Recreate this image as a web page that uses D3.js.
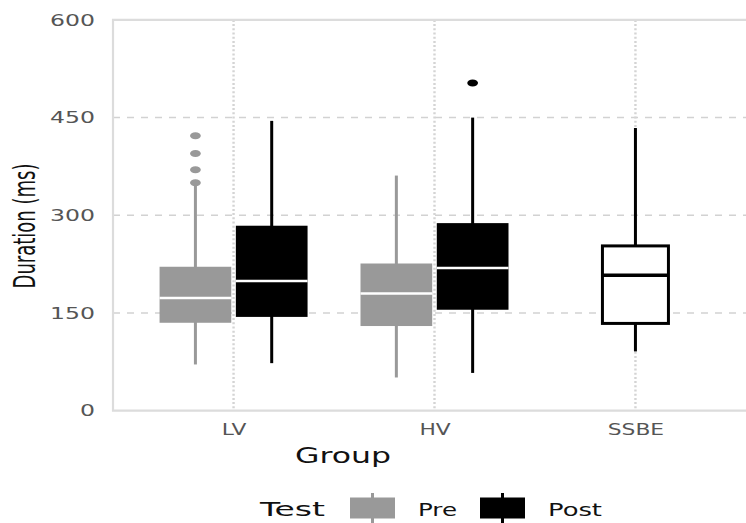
<!DOCTYPE html>
<html lang="en">
<head>
<meta charset="UTF-8">
<title>Duration by Group</title>
<script src="https://d3js.org/d3.v7.min.js"></script>
<style>
  body { margin: 0; background: #fff; }
  svg { display: block; }
  text { font-family: 'DejaVu Sans', sans-serif; }
</style>
</head>
<body>
<script>
// Data: [lower whisker, Q1, median, Q3, upper whisker]
const groups = ['LV', 'HV', 'SSBE'];
const tests = ['Pre', 'Post'];
const yTicks = [0, 150, 300, 450, 600];
const lvPre = [71, 135, 173, 221, 346];
const lvPost = [73, 144, 199, 284, 445];
const hvPre = [51, 130, 180, 226, 361];
const hvPost = [58, 155, 219, 288, 450];
const ssbe = [91, 134, 208, 253, 434];
const lvPreOutliers = [350, 370, 395, 422];
const hvPostOutliers = [503];

const boxes = [
  { group: 'LV', test: 'Pre', s: lvPre, out: lvPreOutliers },
  { group: 'LV', test: 'Post', s: lvPost, out: [] },
  { group: 'HV', test: 'Pre', s: hvPre, out: [] },
  { group: 'HV', test: 'Post', s: hvPost, out: hvPostOutliers },
  { group: 'SSBE', test: null, s: ssbe, out: [] }
];

const W = 746, H = 523;
const panel = { left: 113, top: 19.9, bottom: 410.7, right: 756 };

const svg = d3.select('body').append('svg')
  .attr('width', W).attr('height', H);

const x = d3.scalePoint().domain(groups)
  .range([panel.left, panel.right]).padding(0.6);
const dodge = d3.scaleBand().domain(tests)
  .range([-74, 74]).paddingInner(0.06);
const y = d3.scaleLinear().domain([0, 600])
  .range([panel.bottom, panel.top]);

const fill = d3.scaleOrdinal().domain(tests).range(['#999999', '#000000']);

// stretch text horizontally (the reference is widened)
function stretch(sel, k) {
  sel.each(function () {
    const w = this.getComputedTextLength();
    d3.select(this).attr('textLength', w * k).attr('lengthAdjust', 'spacingAndGlyphs');
  });
}

// grid
svg.append('g').selectAll('line')
  .data(yTicks.filter(d => d > 0 && d < 600))
  .join('line')
  .attr('x1', panel.left).attr('x2', W)
  .attr('y1', d => y(d)).attr('y2', d => y(d))
  .attr('stroke', '#d2d2d2').attr('stroke-width', 1.5)
  .attr('stroke-dasharray', '7,7');

svg.append('g').selectAll('line')
  .data(groups)
  .join('line')
  .attr('x1', d => x(d)).attr('x2', d => x(d))
  .attr('y1', panel.top).attr('y2', panel.bottom)
  .attr('stroke', '#d4d4d4').attr('stroke-width', 2.4)
  .attr('stroke-dasharray', '2,2.2');

// panel border
svg.append('path')
  .attr('d', `M${W + 10},${panel.top}H${panel.left}V${panel.bottom}H${W + 10}`)
  .attr('fill', 'none').attr('stroke', '#dcdcdc').attr('stroke-width', 2.2);

// axes
const yAxis = svg.append('g')
  .attr('transform', `translate(${panel.left},0)`)
  .call(d3.axisLeft(y).tickValues(yTicks).tickSize(0).tickPadding(18));
yAxis.select('.domain').remove();
yAxis.selectAll('text')
  .attr('font-family', 'DejaVu Sans').attr('font-size', 16).attr('fill', '#555')
  .call(stretch, 1.47);

const xAxis = svg.append('g')
  .attr('transform', `translate(0,${panel.bottom})`)
  .call(d3.axisBottom(x).tickSize(0));
xAxis.select('.domain').remove();
xAxis.selectAll('text')
  .attr('y', 24.5).attr('dy', null)
  .attr('font-family', 'DejaVu Sans').attr('font-size', 16).attr('fill', '#555')
  .call(stretch, 1.36);

// boxes
const cx = d => d.test ? x(d.group) + dodge(d.test) + dodge.bandwidth() / 2 : x(d.group);
const bw = d => d.test ? dodge.bandwidth() : 66;
const ink = d => d.test ? fill(d.test) : '#000';

const g = svg.append('g').selectAll('g').data(boxes).join('g');

g.append('line')
  .attr('x1', cx).attr('x2', cx)
  .attr('y1', d => y(d.s[0])).attr('y2', d => y(d.s[4]))
  .attr('stroke', ink).attr('stroke-width', 3);

g.append('rect')
  .attr('x', d => cx(d) - bw(d) / 2).attr('width', bw)
  .attr('y', d => y(d.s[3])).attr('height', d => y(d.s[1]) - y(d.s[3]))
  .attr('fill', d => d.test ? fill(d.test) : '#fff')
  .attr('stroke', d => d.test ? 'none' : '#000')
  .attr('stroke-width', 3);

g.append('line')
  .attr('x1', d => cx(d) - bw(d) / 2).attr('x2', d => cx(d) + bw(d) / 2)
  .attr('y1', d => y(d.s[2])).attr('y2', d => y(d.s[2]))
  .attr('stroke', d => d.test ? '#fff' : '#000')
  .attr('stroke-width', d => d.test ? 2.5 : 3.5);

g.selectAll('ellipse')
  .data(d => d.out.map(v => ({ v, d })))
  .join('ellipse')
  .attr('cx', o => cx(o.d)).attr('cy', o => y(o.v))
  .attr('rx', 5.4).attr('ry', 3.5)
  .attr('fill', o => ink(o.d));

// axis titles
svg.append('text')
  .attr('transform', 'translate(35,226) scale(1.37,1) rotate(-90)')
  .attr('text-anchor', 'middle')
  .attr('font-family', 'Open Sans').attr('font-size', 22.5).attr('fill', '#111')
  .attr('textLength', 125).attr('lengthAdjust', 'spacingAndGlyphs')
  .text('Duration (ms)');

svg.append('text')
  .attr('x', 343).attr('y', 463).attr('text-anchor', 'middle')
  .attr('font-size', 22).attr('fill', '#111')
  .attr('textLength', 96).attr('lengthAdjust', 'spacingAndGlyphs')
  .text('Group');

// legend
svg.append('text')
  .attr('x', 260).attr('y', 516)
  .attr('font-size', 19).attr('fill', '#111')
  .attr('textLength', 65).attr('lengthAdjust', 'spacingAndGlyphs')
  .text('Test');

const keyX = { Pre: 350, Post: 480 };
const labelW = { Pre: 39, Post: 54 };
const key = svg.append('g').selectAll('g').data(tests).join('g');
key.append('line')
  .attr('x1', d => keyX[d] + 22.5).attr('x2', d => keyX[d] + 22.5)
  .attr('y1', 493).attr('y2', 523)
  .attr('stroke', d => fill(d)).attr('stroke-width', 3);
key.append('rect')
  .attr('x', d => keyX[d]).attr('y', 497.5)
  .attr('width', 45).attr('height', 21)
  .attr('fill', d => fill(d));
key.append('text')
  .attr('x', d => keyX[d] + 68).attr('y', 515.5)
  .attr('font-size', 17).attr('fill', '#111')
  .attr('textLength', d => labelW[d]).attr('lengthAdjust', 'spacingAndGlyphs')
  .text(d => d);
</script>
</body>
</html>
